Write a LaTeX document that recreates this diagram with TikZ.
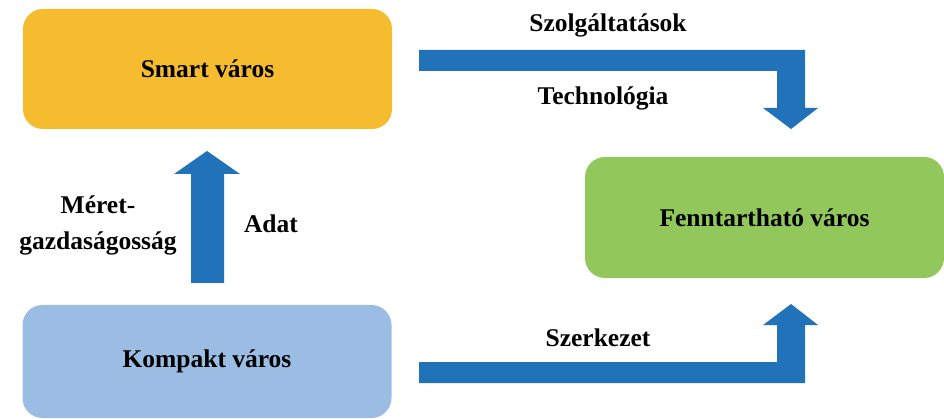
\documentclass[tikz,border=0pt]{standalone}
\usepackage{fontspec}
\setmainfont{Liberation Serif}
\usetikzlibrary{positioning}
\definecolor{smartcol}{HTML}{F4BC2E}
\definecolor{kompaktcol}{HTML}{9BBDE4}
\definecolor{fenncol}{HTML}{92C75B}
\definecolor{arrowblue}{HTML}{2272B9}

\begin{document}
\begin{tikzpicture}[
  x=1pt, y=-1pt,
  every node/.style = {font=\bfseries\fontsize{25.5}{36}\selectfont, align=center},
  citybox/.style = {shape=rectangle, rounded corners=20pt, minimum width=369pt, minimum height=120pt},
  blockarrow/.style = {fill=arrowblue}
]
  \useasboundingbox (0,0) rectangle (944,419);
  % cities
  \node[citybox, fill=smartcol] (smart) at (207.5,69) {Smart város};
  \node[citybox, fill=kompaktcol, minimum height=113pt] (kompakt) at (207,361.5) {Kompakt város};
  \node[citybox, fill=fenncol, minimum width=359pt, minimum height=121pt] (fenn) at (764.5,217.5) {Fenntartható város};
  % arrows
  \fill[blockarrow] (191,283) -- (224,283) -- (224,174) -- (240,174) -- (207,151)
                    -- (174,174) -- (191,174) -- cycle;
  \fill[blockarrow] (419,50) -- (805,50) -- (805,108) -- (818,108) -- (791,129)
                    -- (763,108) -- (777,108) -- (777,71) -- (419,71) -- cycle;
  \fill[blockarrow] (419,383) -- (805,383) -- (805,325) -- (818,325) -- (791,304)
                    -- (763,325) -- (777,325) -- (777,362) -- (419,362) -- cycle;
  % labels
  \node (szolg) at (608,25) {Szolgáltatások};
  \node (tech) at (603,98) {Technológia};
  \node (szerk) at (598,338) {Szerkezet};
  \node (meret) at (98,225) {Méret-\\gazdaságosság};
  \node (adat) at (271,224) {Adat};
\end{tikzpicture}
\end{document}
